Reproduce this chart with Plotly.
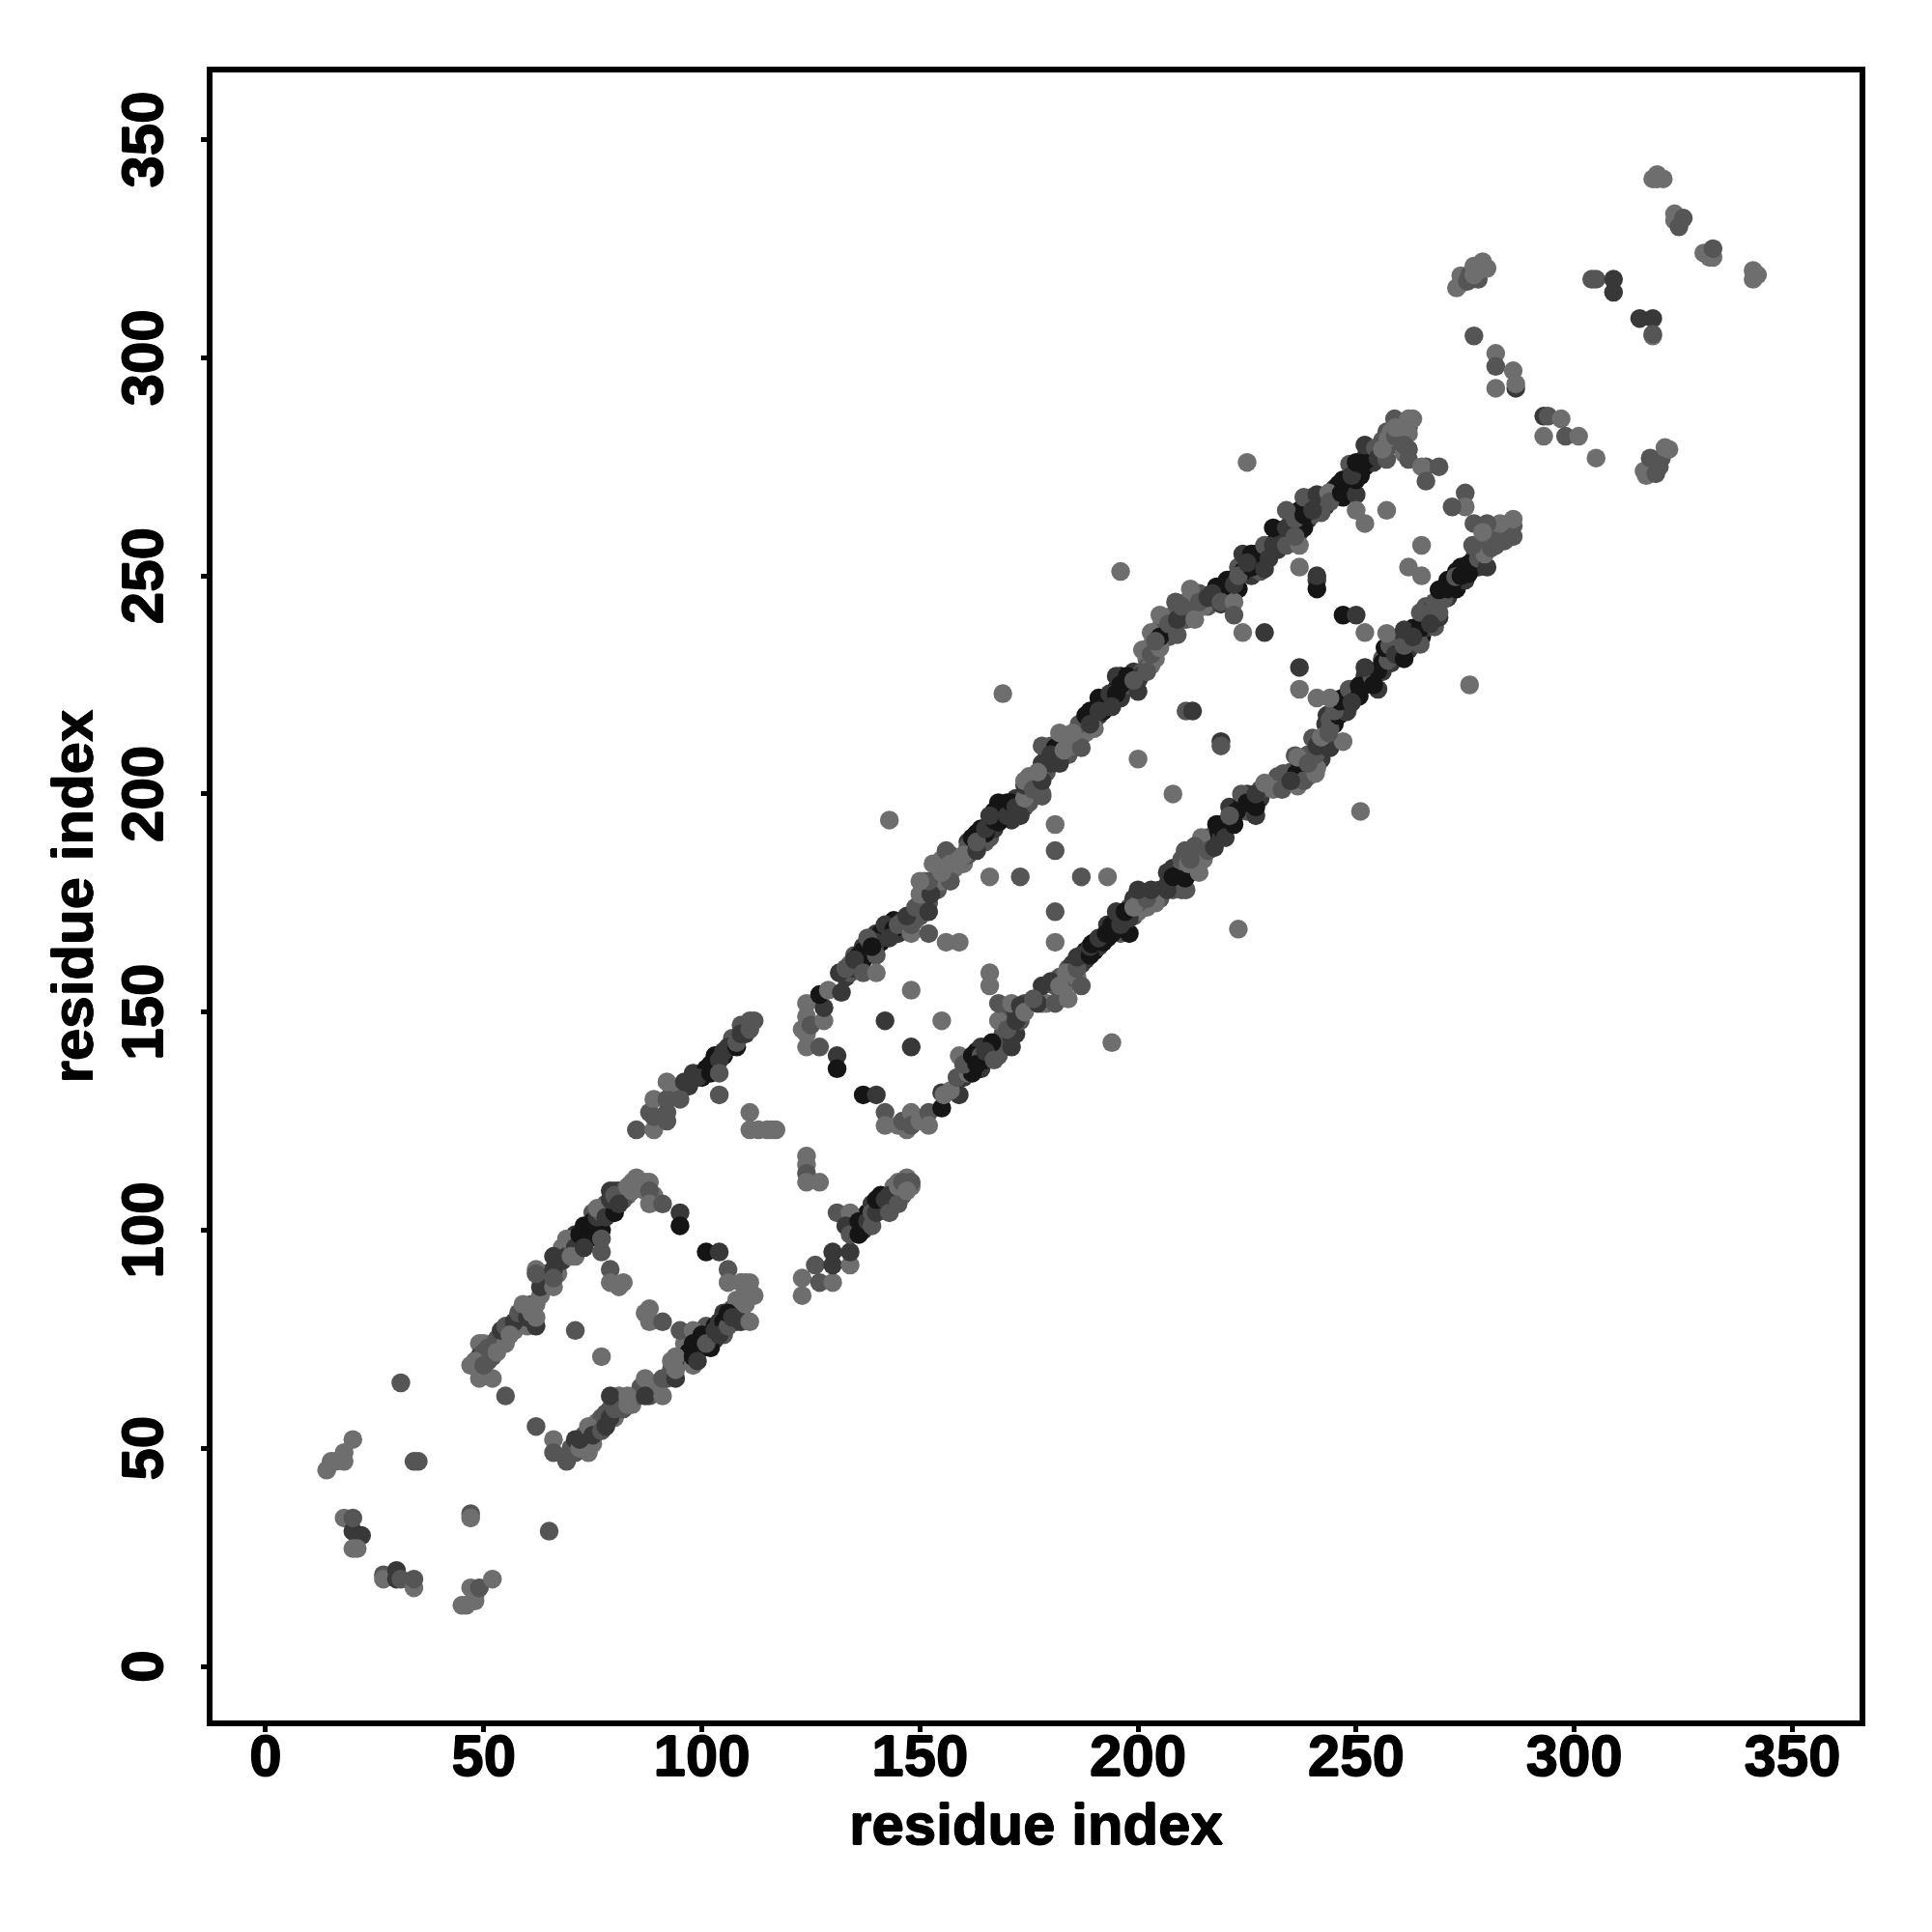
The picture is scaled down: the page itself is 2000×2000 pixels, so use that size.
import plotly.graph_objects as go

TONES = ["#6e6e6e", "#555555", "#383838", "#151515"]
TICKS = [0, 50, 100, 150, 200, 250, 300, 350]
AXIS_LABEL = "residue index"

# (x, y, tone index)
terminal_cluster = [
 (14,45,0),(15,47,0),(16,47,0),(18,47,0),(18,49,0),(20,52,0),(18,34,0),(20,31,2),(20,34,1),(22,30,2),
 (20,27,0),(21,27,0),(27,21,1),(27,20,0),(30,22,2),(30,20,2),(31,20,1),(34,18,0),(34,20,1),(31,65,1),
 (34,47,1),(35,47,1),(47,35,1),(47,34,0),(65,31,1),(45,14,0),(46,14,0),(48,15,0),(48,16,0),(47,18,0),(49,18,1),(52,20,0),
]
fill_upper_a = [
 (50,74,0),(51,70,1),(52,73,1),(53,75,1),(54,74,1),(55,76,1),(56,78,2),(57,77,0),(58,79,1),(59,81,1),(60,82,1),(60,78,0),(61,83,1),(63,85,0),(63,89,1),(64,90,0),(65,88,0),
 (67,93,1),(67,90,0),(68,96,0),(69,94,2),(70,97,1),(71,99,2),(72,96,1),(73,99,3),(73,101,3),(74,101,3),(75,100,3),(75,104,1),(76,101,3),(77,102,2),(78,106,1),(78,105,1),(79,104,1),
 (80,106,2),(80,109,1),(81,109,2),(82,109,1),(83,108,0),(84,111,0),(85,110,0),(86,111,0),(87,111,0),(89,108,0),
]
fill_lower_a = [
 (70,50,1),(73,51,1),(73,53,1),(74,53,2),(75,51,0),(76,54,1),(76,56,0),(77,57,1),(78,58,1),(79,59,1),(80,57,0),(81,60,1),(82,61,0),(84,60,0),(85,62,1),(86,64,1),(88,65,1),(88,62,1),
 (90,64,0),(92,66,1),(93,68,1),(93,70,0),(95,70,1),(96,71,1),(97,70,2),(96,74,0),(97,72,3),(99,73,2),(99,75,3),(101,76,3),(101,78,1),(103,75,2),(103,78,3),(104,79,2),(105,76,1),
 (105,81,2),(106,79,2),(107,82,1),(108,79,1),(108,84,0),(109,81,1),(110,85,0),
]
fill_beta = [
 (93,133,1),(94,132,0),(97,133,2),(98,136,2),(101,137,3),(103,140,3),(105,140,3),(105,141,2),(107,144,1),(109,147,1),(110,146,1),
 (135,100,1),(135,103,3),(137,100,2),(138,104,3),(139,106,2),(141,105,2),(141,108,3),(142,105,0),(144,108,1),(144,110,0),(146,108,1),(145,111,0),(147,110,1),(148,110,0),
]
fill_upper_b = [
 (133,158,2),(134,159,1),(135,160,2),(135,163,1),(136,161,2),(137,162,3),(137,165,2),(138,163,3),(139,164,3),(140,165,3),(140,168,2),(141,166,3),(141,168,3),(142,167,3),(143,168,3),
 (143,170,3),(144,171,3),(145,168,2),(146,169,2),(147,170,1),(148,172,1),(149,172,2),(149,171,0),(150,172,1),(150,175,1),(151,174,2),(151,177,0),(152,175,1),(153,178,1),(151,180,0),
 (154,181,0),(154,178,1),(155,180,0),(155,185,0),(156,183,0),(156,181,0),(157,186,1),(158,183,0),(158,185,0),(160,184,0),(161,186,1),(162,188,2),(161,189,2),(163,191,3),(164,189,2),
 (165,189,1),(166,192,3),(166,190,1),(167,192,2),(167,196,3),(169,195,3),(169,197,3),(170,196,3),(171,194,2),(172,199,2),(173,198,2),(174,197,1),(175,200,1),(175,198,1),(176,203,0),
 (177,202,2),(179,205,1),(179,208,2),(180,207,2),(180,211,1),(181,208,2),(182,210,3),(183,209,0),(184,209,1),(185,211,0),(186,213,1),(187,214,0),(187,216,2),(188,215,1),(188,214,0),
 (189,219,3),(190,217,3),(191,218,2),(191,222,3),(192,219,3),(193,220,2),(193,222,3),(194,223,3),(195,224,3),(196,222,2),(196,227,3),(197,224,2),(198,225,1),(199,228,2),(200,226,1),
 (201,228,1),(202,231,0),(202,229,1),(203,234,0),(204,233,2),(204,231,0),(205,238,0),(206,236,2),(206,240,1),(207,236,1),(208,238,2),(208,241,0),(209,243,1),(210,241,1),(211,244,0),
 (211,240,1),(212,243,1),(213,245,0),(214,246,1),(216,243,1),
 (221,246,3),(221,249,3),(223,247,3),(223,252,1),(225,251,2),(226,250,2),(227,252,3),(227,255,3),(228,254,3),(228,251,1),(230,257,1),(232,256,2),(232,259,3),(233,258,3),(233,260,2),
 (235,259,2),(235,262,2),(236,261,1),(237,260,2),(237,264,1),(237,265,3),(239,266,3),(239,263,2),(240,268,1),(240,264,1),(241,265,2),(243,266,2),(243,268,1),(245,268,1),(245,270,2),
 (246,271,3),(247,268,3),(248,272,3),(248,270,3),(249,274,3),(250,274,3),(251,273,3),(252,275,3),(252,277,2),(253,279,3),(254,276,2),(255,279,1),(256,281,1),(257,283,1),(258,280,1),
 (258,283,0),(260,284,0),(260,281,1),(261,283,1),(261,278,0),(262,284,1),
]
fill_lower_b = [
 (160,135,2),(161,137,3),(163,141,3),(164,137,2),(164,142,2),(165,139,3),(166,141,3),(167,142,3),(168,143,2),(168,140,1),(169,142,1),(169,145,1),(170,148,0),(170,150,1),(171,147,1),
 (172,150,2),(172,145,2),(173,148,1),(174,152,1),(175,152,2),(178,152,1),(179,152,0),(178,156,2),(181,156,1),(182,158,1),(183,155,0),(184,157,0),(184,160,1),(185,158,1),(185,161,2),
 (186,158,0),(187,161,2),(188,162,2),(188,164,3),(190,164,3),(190,166,3),(191,165,2),(193,167,3),(193,170,2),(194,170,3),(195,169,3),(195,171,3),(196,172,2),(196,168,1),(197,169,3),
 (198,174,1),(199,172,1),(199,176,2),(200,173,0),(201,175,0),(201,177,1),(202,174,0),(203,175,0),(204,177,2),(205,178,2),(205,176,1),(207,180,2),(208,178,1),(208,183,2),(209,179,2),
 (209,182,3),(210,178,1),(210,183,0),(210,185,1),(212,182,2),(212,187,0),(213,184,1),(215,187,1),(215,185,0),(216,190,1),(217,189,2),(218,190,3),(219,193,3),(219,190,2),(220,192,3),
 (221,193,3),(221,197,2),(222,195,2),(223,196,3),(224,198,3),(225,196,1),(225,200,2),(226,199,3),(228,199,2),(228,201,1),(230,202,1),(232,202,0),(232,204,1),(234,203,0),(235,205,1),
 (237,205,3),(237,207,2),(238,206,1),(239,204,0),(239,209,1),(240,207,0),(241,208,1),(242,208,2),(242,211,1),(243,212,1),(243,216,2),(245,216,3),(245,221,3),(247,220,3),(247,222,3),
 (248,219,1),(248,222,3),(249,224,2),(249,223,3),(251,225,3),(252,225,3),(252,227,2),(253,228,3),(254,227,3),(256,228,2),(256,231,1),(256,230,3),(258,230,2),(258,233,3),(258,235,2),
 (259,235,1),(260,232,3),(260,236,2),(262,233,2),(262,237,1),(263,235,1),(263,238,3),(264,237,1),(265,236,3),(266,238,2),(266,241,3),(266,243,1),(267,242,2),(268,241,1),(268,244,1),
 (270,245,3),(270,247,3),(271,245,2),(271,249,3),(273,247,3),(273,251,3),(274,252,3),(275,249,2),(276,252,3),(277,252,3),(277,254,2),(278,252,2),(279,257,1),(281,259,1),(282,257,1),
 (283,260,0),(284,258,1),(285,260,1),
]
upper_a = [
 (47,69,0),(49,66,0),(52,66,0),(55,62,1),(49,74,0),(49,71,2),(50,72,1),(48,70,0),(50,69,1),(52,71,1),(51,73,1),(53,72,0),(55,74,0),
 (54,77,2),(55,78,1),(57,79,2),(56,76,0),(58,81,1),(60,80,2),(59,83,0),(62,78,2),(61,81,0),(62,83,0),(62,80,0),
 (62,91,0),(63,87,2),(62,90,1),(66,87,0),(66,91,2),(66,89,1),(66,94,2),(68,93,2),(69,98,0),(71,96,2),(70,94,0),(71,94,0),(72,99,3),(74,98,3),(73,96,2),
 (75,102,3),(77,100,3),(76,99,3),(76,103,2),(77,104,1),(76,105,0),(78,103,2),(80,104,3),(79,107,2),(79,109,2),(80,108,1),(82,107,1),(81,106,2),(83,110,0),
 (85,112,0),(84,109,0),(86,110,0),(88,111,0),(87,109,0),(88,109,1),(88,106,0),(91,106,1),(95,104,2),(95,101,3),
]
interior_a = [
 (77,98,1),(77,95,1),(79,91,1),(79,88,0),(81,87,0),(82,88,0),(71,77,1),(77,71,0),(88,82,0),(87,81,0),(88,79,0),(91,79,1),(95,77,1),(98,77,0),
 (101,95,3),(104,95,2),(106,91,1),(106,88,0),
]
lower_a = [
 (62,55,1),(66,52,0),(66,49,1),(69,47,1),(71,49,1),(71,52,2),(72,50,0),(74,49,0),(72,52,2),(74,55,0),(75,53,2),(77,54,1),(78,55,2),(79,57,2),(80,59,1),
 (81,62,0),(79,62,2),(82,59,1),(83,60,0),(83,62,0),(87,66,0),(87,62,2),(91,62,0),(91,66,1),(94,66,2),(94,68,0),(94,71,0),(98,69,0),
 (98,71,3),(98,74,3),(100,76,3),(100,73,3),(99,70,2),(102,73,3),(102,76,3),(101,74,1),(103,77,2),(105,79,3),(104,76,2),(106,78,1),(106,81,3),(107,80,2),(109,79,2),
 (111,79,0),(109,84,0),(110,83,0),(109,88,0),(110,88,0),(111,86,0),(111,88,0),(112,85,0),
]
beta_left = [
 (85,123,1),(89,123,0),(88,127,1),(89,130,0),(89,126,1),(92,127,1),(92,125,1),(92,130,1),(92,134,0),(95,130,1),(96,134,2),(100,135,3),(99,135,2),(102,136,3),(102,138,3),
 (104,139,2),(104,136,1),(104,131,1),(106,142,2),(108,142,3),(108,143,1),(109,145,2),(110,145,2),(111,146,1),(111,148,1),(112,148,1),
 (111,127,0),(111,123,0),(113,123,0),(115,123,0),(116,123,0),(117,123,0),(124,117,0),(124,115,0),(124,113,1),(124,111,0),(127,111,0),
]
beta_right = [
 (123,85,0),(123,89,0),(126,92,1),(127,88,1),(130,88,0),(130,92,2),(130,95,2),(134,92,0),(134,95,2),(131,104,1),(134,104,0),(133,101,2),(134,99,1),(136,99,3),(136,102,3),(137,102,3),
 (138,102,2),(139,101,1),(139,104,1),(140,104,2),(140,107,3),(142,107,2),(143,104,1),(143,108,2),(145,106,1),(145,110,0),(147,112,0),(146,111,1),(148,111,1),(147,109,0),
]
upper_b = [
 (124,152,0),(123,146,0),(124,142,0),(127,142,1),(124,145,0),(124,149,0),(125,147,1),(128,148,0),(128,151,2),(127,154,3),(129,155,0),(132,154.5,2),(131.5,159,2),
 (134,161,0),(133,160,1),(136,163,3),(137,164,3),(135,162,2),(138.5,166,2),(140,166,2),(138,167,1),(137,159,1),(140,163,1),(140,159,0),(139,165,3),
 (142,170,2),(144,169,3),(143,167,2),(146,171,2),(145,170,1),(148,168,0),(148,170,1),(147,172,2),(152,168,1),(149,174,1),(152,173,2),(150,177,0),(152.5,177,2),
 (152,180,1),(150,180,0),(157,180,1),(153,184,0),(155,182,0),(156,187,1),(157,184,0),(159,185,0),(161,188,1),(160,186,0),(163,187,2),(162,190,3),(164,192,3),(165,191,3),(163,189,1),
 (165,192,2),(167,194,3),(168,193.5,3),(168,197.5,3),(168,198,3),(166,195,2),(170,198,3),(170,195,2),(173,195,2),(171,198,3),(172,197,2),
 (174,199,0),(174,202,2),(175,204,0),(174,203,0),(176,201,1),(178,199.5,1),(178,200,1),(178,203,2),(178,207,2),(178,211,1),(177,205,0),
 (181,210.6,3),(180,209,2),(182,207,2),(182,214,0),(184,212,0),(183,210,0),(187,210.6,1),(186.5,216,1),(185,214,0),(190,215,0),(188,218,3),(190,219,3),(189,216,2),
 (192,221,3),(191,219,2),(193.5,223,2),(195,223,3),(194,220,2),(195,227,2),(197.5,227,3),(196,225,3),(200,223.5,2),(200.5,227,2),(199,226,1),
 (203,229.5,0),(202,228,1),(201,233,0),(203,232,1),(205,233.5,0),(203,237,0),(205,236,3),(204,235,1),(209,236.5,1),(205,241,0),(207,239,1),(208.6,244,1),(209,240,2),(210,243,1),
 (213,240,0),(212,247,0),(215,243,0),(214,244,1),(217.4,246,3),(219,243.5,2),(216,245,2),(218,247.5,3),(217,246,2),(219,244,1),(222,244,0),(222,241,1),
 (220.4,249,3),(222,248,2),(224,251,3),(224,255,2),(223,250,1),(226,255,3),(226,252,3),(225,253,2),(229,251.6,2),(229,257,1),(231,257,2),(231,261,3),(230,254,2),
 (234,257,1),(237,257,0),(234,261,2),(238,261,3),(236,259,1),(234,265,1),(236,263,1),(238,264,3),(242,264.5,1),(238,268,1),(240,265,2),(241,268.6,2),(243.7,269,0),(244,267,1),
 (246.6,269,3),(250,268.6,2),(247,272,3),(250,272,3),(248.5,275.6,1),(249,273,2),(251.4,275.6,3),(253,277,3),(250,276,3),(252,280,2),(254.4,279.3,1),(255,277,2),(257,276.7,1),
 (257.3,281.5,0),(256,279,0),(259,282,1),(258.8,286,1),(262,286,0),(263,286,0),(259,284,0),(262,282.6,0),(261,280,1),(262,279,1),(262,276.7,1),
]
interior_b = [
 (142,127,1),(131,140,2),(131,137,3),(137,131,3),(140,131,2),(148,155,0),(155,148,0),(142,148,2),(148,142,2),(156,166,0),(159,166,0),(166,159,0),(166,156,0),(143,194,0),
 (181,193,0),(181,187,1),(166,181,0),(173,181,1),(187,181,1),(193,181,0),(181,173,1),(181,166,0),(194,143,0),(169,223,0),(211,219,1),(212.5,219,2),
 (219,212,2),(219,211,1),(200,208,0),(208,200,0),(223,169,0),(196,251,0),(224,237,0),(229,237,2),(241,249,2),(241,247,3),(247,241,3),(250,241,2),(237,229,2),(237,224,0),(237,252,0),(241,250,2),
 (252,237,0),(257,265,0),(250,265,0),(252,262,0),(225,276,0),(265,257,0),(262,252,0),(265,250,0),(276,225,0),(251,196,0),
 (266,275,1),(265,275,0),(269,275,1),(266,271.7,1),(275,269,1),(275,265.8,0),(272,265.8,1),
]
lower_b = [
 (142,124,0),(145,124,0),(147,123,0),(146,125,1),(148,127,0),(148,124,1),(150,125,0),(152,127,1),(152,124,0),(155,128,3),(155,131.5,2),(155.5,131,0),(159,131,2),(157,132,0),
 (158.5,135,1),(159,140,0),(161,136,0),(162,136,3),(160,138,1),(162,140,3),(164,140,1),(163,138,3),(166.5,143,3),(165,141,2),(167,139,1),(168,148,0),(168,152,1),(171,152,0),
 (171,144,2),(171,142,2),(170,146,1),(172,148,2),(173,151.5,2),(174,150,0),(177,152,2),(176,153,1),(180,157,2),(181,152,1),(184,153,0),(183.5,159,0),(182,156,0),(187,156,1),(186,160,1),
 (186,162.6,2),(187,163,2),(189,163,3),(189,165,2),(189.4,165.6,3),(192,166,3),(191,167,2),(192.7,168,3),(194,168,3),(198,168,3),(196,170,2),(195,173,2),(198,171.5,2),(197,173,3),
 (200,175,1),(199,174,0),(204,175,0),(202,176,1),(200,178,2),(203,178,2),(206.7,178,2),(211,178,1),(206.7,182,2),(208,181,3),(210.8,180.7,3),(210.8,187,1),(214,182,0),
 (211.5,184,0),(212,185,1),(214.5,190,0),(213,188,1),(216,187,1),(217.5,187.7,2),(219.6,191.4,3),(218,193,3),(220,190,2),(222,193,3),(222.6,196,3),(221,195,1),(227,195,2),
 (223.7,200,1),(227,197,3),(225,198,3),(227,200,2),(229,202.5,0),(231,201,0),(233,201,1),(236.6,201.8,0),(233.3,204.7,1),(236.3,204.7,3),(238,203,1),(235,203,2),(240.7,204.7,0),
 (236,208.8,1),(236.6,208.4,0),(241,206,0),(240,212.8,1),(240.7,209,1),(239,207,1),(241,211,2),(244,210.6,2),(243.7,210.6,2),(242,213,0),(247,212,0),(243.3,218,2),(244,215,1),(243.7,214,1),
 (244,217,1),(246,218.7,3),(246,218,3),(246,221.7,3),(247.7,218.8,2),(245,219,1),(246.3,221.3,3),(241,222,0),(244,222,0),(248.4,224,1),(250.7,224.7,3),(250.7,222.4,3),(249,221,2),
 (253.6,226.9,1),(255,228.3,3),(255,224,2),(252,229,2),(254,225,3),(257.3,230.6,1),(256.6,233.5,3),(257.7,234,1),(257,236.8,0),(259,232,2),(261,231,3),(261,234,1),(261,237.6,2),
 (264.7,234.3,1),(264.7,238,3),(263,236,2),(264.7,241.6,1),(268,238.3,1),(269,240.5,2),(269,241.6,1),(267,239,2),(270,244.6,1),(269,246.8,3),(272,248,3),(271,247,3),(272.8,249.8,1),
 (275.8,250.5,3),(275.8,252.7,3),(274,250,3),(278,254,1),(280,252,2),(279.5,255,0),(276.7,257,1),(281,256.4,1),(280,258.6,1),(283,258.6,1),(286,259,1),(286,261.5,1),(286,263,0),(283,262,0),(280,262,1),(277,262,1),(279,260,0),
]
upper_right = [
 (277,305,1),(282,301,0),(282,298,1),(286,297,0),(282,293,0),(286.6,293,2),(286.6,294,0),(293,286.6,2),(294,286.6,1),(297,286,0),(293,282,0),(298,282,1),(301,282,0),(305,277,0),
 (273,316,0),(274,318.8,0),(274,317,0),(275.5,317.5,1),(276,319,1),(278,318,1),(277,319,0),(277,321,0),(278,320,0),(279,322,0),(280,320.5,0),
 (304,318,1),(305,318,1),(309,318,2),(309,315,2),(315,309,2),(318,309,2),(318,305,0),(318,305.4,1),
 (318,341,0),(319,341,0),(320.4,341,0),(319,342,0),(323,331.5,0),(323,333,0),(324,330,1),(325,332,1),(329.7,324,0),(331,323,0),(331.8,323,0),(331.8,325,1),
 (341,320,0),(341,318,0),(342,319,0),
 (316.5,273,0),(316,274,0),(318.7,273.4,1),(317.4,277,1),(319.5,275,1),(320,277,1),(320.8,279.4,0),(321.7,279,0),
]

groups = [fill_upper_a, fill_lower_a, fill_beta, fill_upper_b, fill_lower_b,
          terminal_cluster, upper_a, interior_a, lower_a, beta_left, beta_right, upper_b, interior_b, lower_b, upper_right]
rows = [p for g in groups for p in g]
x_values = [p[0] for p in rows]
y_values = [p[1] for p in rows]
colors = [TONES[p[2]] for p in rows]

fig = go.Figure(go.Scatter(x=x_values, y=y_values, mode="markers",
    marker=dict(size=19.5, color=colors, line=dict(width=0)), hoverinfo="skip", showlegend=False))

font = dict(family="Liberation Sans", size=60, color="black",
            shadow="0.7px 0 0 black, -0.7px 0 0 black, 0 0.7px 0 black, 0 -0.7px 0 black")
labels = [f"<b>{t}</b>" for t in TICKS]
axis = dict(tickmode="array", tickvals=TICKS, ticktext=labels,
    ticks="outside", ticklen=6, tickwidth=4.5, tickcolor="black", tickfont=font,
    showline=True, linecolor="black", linewidth=6, mirror=True, showgrid=False, zeroline=False,
    title=dict(text=f"<b>{AXIS_LABEL}</b>", font=font))
fig.update_layout(width=2000, height=2000, margin=dict(l=211.5, r=82.5, t=67, b=227),
    paper_bgcolor="white", plot_bgcolor="white",
    font=dict(family="Liberation Sans", size=60),
    xaxis=dict(axis, range=[-12.17, 365.4], ticklabelstandoff=-27),
    yaxis=dict(axis, range=[-12.4, 365.4], tickangle=-90, ticklabelstandoff=16, ticklabelshift=9))
fig.update_xaxes(title_standoff=19)
fig.update_yaxes(title_standoff=0.5)
fig.write_html("out.html")
